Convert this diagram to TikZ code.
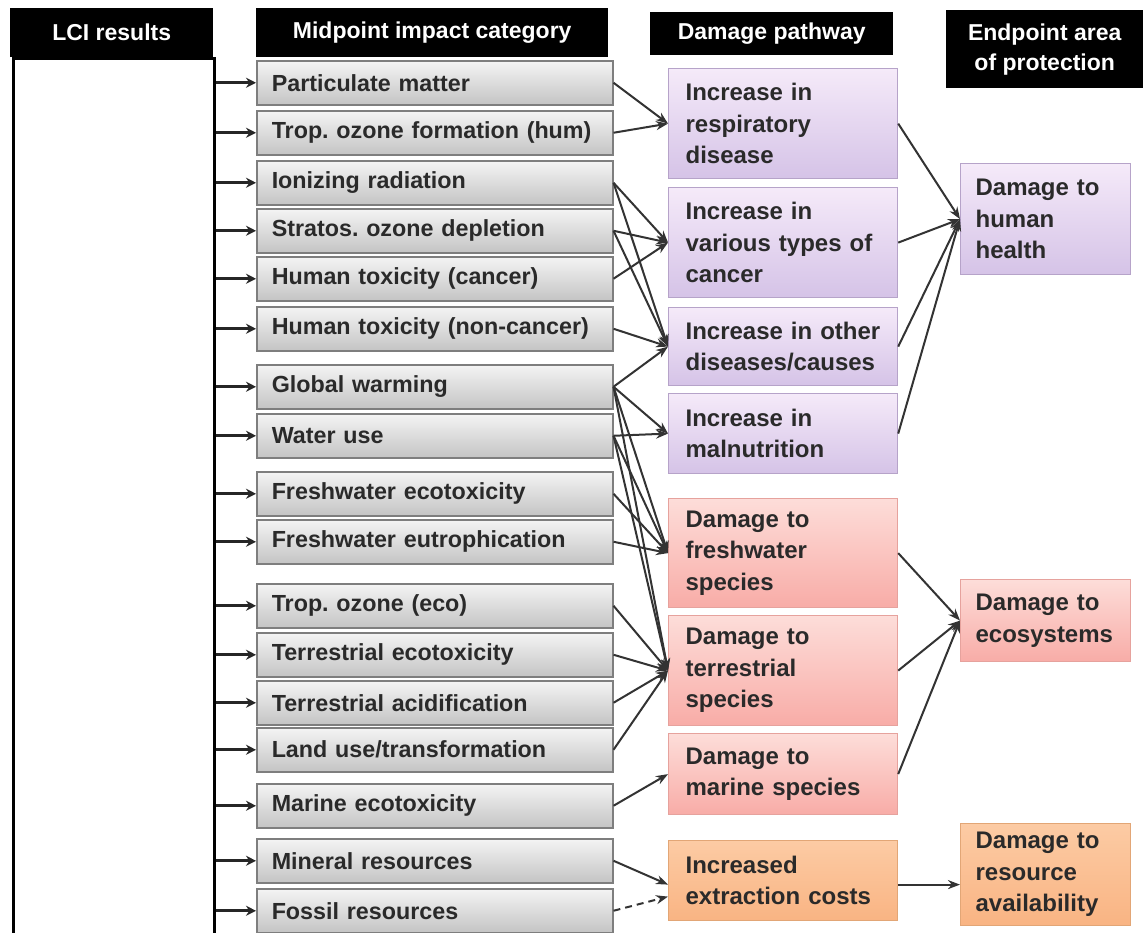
\documentclass[tikz,border=0pt]{standalone}
\usepackage{fontspec}
\setmainfont{Liberation Sans}
\usetikzlibrary{arrows.meta}
\frenchspacing
\definecolor{purT}{HTML}{F5EAF9}
\definecolor{purB}{HTML}{D5C3E7}
\definecolor{purD}{HTML}{B6A3C9}
\definecolor{pinT}{HTML}{FDDDD9}
\definecolor{pinB}{HTML}{F8ACA7}
\definecolor{pinD}{HTML}{E6A29D}
\definecolor{orgT}{HTML}{FCCBA4}
\definecolor{orgB}{HTML}{F9B483}
\definecolor{orgD}{HTML}{E2A676}
\definecolor{gryT}{HTML}{F4F4F4}
\definecolor{gryB}{HTML}{C4C4C4}
\definecolor{gryD}{HTML}{7E7E7E}
\definecolor{txt}{HTML}{2A2A2A}
\definecolor{lnk}{HTML}{333333}
\begin{document}
\begin{tikzpicture}[x=1pt,y=-1pt,
  hdr/.style={fill=black, text=white, font=\fontsize{23}{30}\selectfont\bfseries, align=center, inner sep=0pt, anchor=north west},
  mid/.style={draw=gryD, line width=1.5pt, top color=gryT, bottom color=gryB, anchor=north west, minimum height=44pt, text width=326pt, inner xsep=15pt, inner ysep=0pt, align=left, font=\fontsize{23.3}{28}\selectfont\bfseries, text=txt},
  dmg/.style={line width=1.2pt, anchor=north west, text width=195pt, inner xsep=17pt, inner ysep=0pt, align=left, font=\fontsize{24}{31.5}\selectfont\bfseries, text=txt},
  endp/.style={line width=1.2pt, anchor=north west, text width=140pt, inner xsep=15pt, inner ysep=0pt, align=left, font=\fontsize{24}{31.5}\selectfont\bfseries, text=txt},
  pur/.style={draw=purD, top color=purT, bottom color=purB},
  pin/.style={draw=pinD, top color=pinT, bottom color=pinB},
  org/.style={draw=orgD, top color=orgT, bottom color=orgB},
  lciarrow/.style={draw=black!85, line width=3pt, -{Stealth[length=10pt,width=10pt]}},
  link/.style={draw=lnk, line width=2pt, -{Stealth[length=12pt,width=9pt]}},
  dashlink/.style={link, dash pattern=on 7pt off 5pt},
]
\useasboundingbox[fill=white] (0,0) rectangle (1147,932);
% LCI results column
\node[draw=black, line width=3pt, anchor=north west, minimum width=201pt, minimum height=900pt, inner sep=0pt] (lci) at (12,57) {};
% headers
\node[hdr, minimum width=203pt, minimum height=49pt] (h1) at (10,8) {LCI results};
\node[hdr, minimum width=352pt, minimum height=49pt] (h2) at (256,8) {Midpoint impact category};
\node[hdr, minimum width=243pt, minimum height=43pt] (h3) at (650,12) {Damage pathway};
\node[hdr, minimum width=197pt, minimum height=78pt] (h4) at (946,10) {Endpoint area\\of protection};
% midpoint categories
\node[mid] (m1) at (256,60) {Particulate matter};
\node[mid] (m2) at (256,110) {Trop. ozone formation (hum)};
\node[mid] (m3) at (256,160) {Ionizing radiation};
\node[mid] (m4) at (256,208) {Stratos. ozone depletion};
\node[mid] (m5) at (256,256) {Human toxicity (cancer)};
\node[mid] (m6) at (256,306) {Human toxicity (non-cancer)};
\node[mid] (m7) at (256,364) {Global warming};
\node[mid] (m8) at (256,413) {Water use};
\node[mid] (m9) at (256,471) {Freshwater ecotoxicity};
\node[mid] (m10) at (256,519) {Freshwater eutrophication};
\node[mid] (m11) at (256,583) {Trop. ozone (eco)};
\node[mid] (m12) at (256,632) {Terrestrial ecotoxicity};
\node[mid] (m13) at (256,680) {Terrestrial acidification};
\node[mid] (m14) at (256,727) {Land use/transformation};
\node[mid] (m15) at (256,783) {Marine ecotoxicity};
\node[mid] (m16) at (256,838) {Mineral resources};
\node[mid] (m17) at (256,888) {Fossil resources};
\foreach \i in {1,...,17} \draw[lciarrow] (lci.east |- m\i.west) -- (m\i.west);
% damage pathways
\node[dmg, pur, minimum height=110pt] (d1) at (668,68) {Increase in\\respiratory\\disease};
\node[dmg, pur, minimum height=110pt] (d2) at (668,187) {Increase in\\various types of\\cancer};
\node[dmg, pur, minimum height=78pt] (d3) at (668,307) {Increase in other\\diseases/causes};
\node[dmg, pur, minimum height=80pt] (d4) at (668,393) {Increase in\\malnutrition};
\node[dmg, pin, minimum height=109pt] (d5) at (668,498) {Damage to\\freshwater\\species};
\node[dmg, pin, minimum height=110pt] (d6) at (668,615) {Damage to\\terrestrial\\species};
\node[dmg, pin, minimum height=81pt] (d7) at (668,733) {Damage to\\marine species};
\node[dmg, org, minimum height=80pt] (d8) at (668,840) {Increased\\extraction costs};
% endpoints
\node[endp, pur, minimum height=111pt] (e1) at (960,163) {Damage to\\human\\health};
\node[endp, pin, minimum height=82pt] (e2) at (960,579) {Damage to\\ecosystems};
\node[endp, org, minimum height=102pt] (e3) at (960,823) {Damage to\\resource\\availability};
% midpoint -> damage
\draw[link] (m1.east) -- (d1.west);
\draw[link] (m2.east) -- (d1.west);
\draw[link] (m3.east) -- (d2.west);
\draw[link] (m3.east) -- (d3.west);
\draw[link] (m4.east) -- (d2.west);
\draw[link] (m4.east) -- (d3.west);
\draw[link] (m5.east) -- (d2.west);
\draw[link] (m6.east) -- (d3.west);
\draw[link] (m7.east) -- (d3.west);
\draw[link] (m7.east) -- (d4.west);
\draw[link] (m7.east) -- (d5.west);
\draw[link] (m7.east) -- (d6.west);
\draw[link] (m8.east) -- (d4.west);
\draw[link] (m8.east) -- (d5.west);
\draw[link] (m8.east) -- (d6.west);
\draw[link] (m9.east) -- (d5.west);
\draw[link] (m10.east) -- (d5.west);
\draw[link] (m11.east) -- (d6.west);
\draw[link] (m12.east) -- (d6.west);
\draw[link] (m13.east) -- (d6.west);
\draw[link] (m14.east) -- (d6.west);
\draw[link] (m15.east) -- (d7.west);
\draw[link] (m16.east) -- ([yshift=-4pt]d8.west);
\draw[dashlink] (m17.east) -- ([yshift=-16pt]d8.west);
% damage -> endpoint
\foreach \i in {1,2,3,4} \draw[link] (d\i.east) -- (e1.west);
\foreach \i in {5,6,7} \draw[link] (d\i.east) -- (e2.west);
\draw[link] ([yshift=-4pt]d8.east) -- ([yshift=-4pt]d8.east -| e3.west);
\end{tikzpicture}
\end{document}
